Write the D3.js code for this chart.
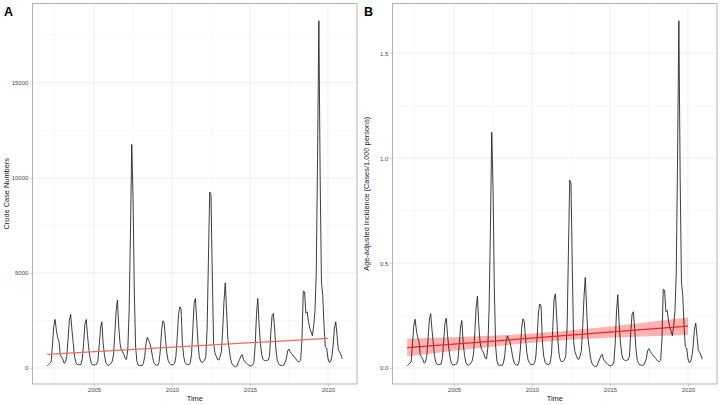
<!DOCTYPE html>
<html><head><meta charset="utf-8">
<script src="https://cdn.jsdelivr.net/npm/d3@7"></script>
<style>body{margin:0;background:#fff}svg{display:block;font-family:"Liberation Sans",Arial,sans-serif}</style>
</head><body><svg id="c" width="720" height="405"></svg>
<script>
// Monthly series, Jan 2002 .. Dec 2020
const startYear = 2002;
const casesA = [
  120, 180, 250, 320, 1200, 2200, 2555, 2000, 1600, 1400, 700, 580,      // 2002
  450, 250, 300, 600, 1500, 2500, 2815, 2000, 1300, 600, 300, 190,       // 2003
  180, 170, 200, 500, 1300, 2300, 2550, 1700, 1000, 500, 250, 160,       // 2004
  150, 180, 200, 400, 1200, 2100, 2430, 1300, 700, 300, 180, 140,        // 2005
  180, 250, 350, 700, 1800, 3000, 3570, 2200, 1300, 950, 850, 700,       // 2006
  500, 450, 1000, 3000, 7000, 11750, 9000, 4000, 1100, 350, 150, 120,    // 2007
  150, 120, 250, 600, 1300, 1610, 1450, 1300, 1000, 600, 300, 180,       // 2008
  150, 140, 300, 900, 2000, 2480, 2350, 1500, 800, 400, 250, 180,        // 2009
  170, 170, 250, 600, 1600, 2800, 3215, 3100, 1300, 600, 300, 200,       // 2010
  180, 170, 250, 700, 2000, 3400, 3655, 2500, 1300, 600, 350, 300,       // 2011
  330, 400, 600, 2000, 5600, 9250, 9100, 5000, 1300, 800, 630, 450,      // 2012
  420, 600, 860, 2000, 3500, 4475, 3000, 1500, 1000, 500, 250, 150,      // 2013
  100, 70, 100, 300, 450, 630, 700, 450, 330, 270, 220, 150,             // 2014
  120, 100, 150, 300, 1200, 2800, 3655, 2300, 1300, 700, 450, 400,       // 2015
  380, 400, 420, 600, 1800, 2750, 2870, 2000, 950, 400, 240, 150,        // 2016
  150, 130, 150, 300, 500, 900, 1000, 850, 750, 650, 600, 500,           // 2017
  420, 330, 330, 400, 1500, 4040, 4000, 2900, 2950, 2450, 2100, 1900,    // 2018
  1700, 2200, 3000, 5000, 11000, 18250, 10000, 4500, 3800, 2200, 1100, 1050, // 2019
  500, 300, 330, 600, 1200, 2100, 2430, 1700, 950, 850, 700, 480         // 2020
];
const incidenceB = [
  0.011, 0.016, 0.023, 0.029, 0.109, 0.200, 0.232, 0.182, 0.145, 0.127, 0.064, 0.053,
  0.041, 0.023, 0.028, 0.055, 0.138, 0.230, 0.259, 0.184, 0.120, 0.055, 0.028, 0.017,
  0.017, 0.016, 0.019, 0.046, 0.121, 0.213, 0.237, 0.158, 0.093, 0.046, 0.023, 0.015,
  0.014, 0.017, 0.019, 0.037, 0.112, 0.195, 0.226, 0.121, 0.065, 0.028, 0.017, 0.013,
  0.017, 0.024, 0.034, 0.067, 0.172, 0.287, 0.342, 0.211, 0.125, 0.091, 0.081, 0.067,
  0.048, 0.043, 0.096, 0.287, 0.670, 1.124, 0.861, 0.383, 0.105, 0.033, 0.014, 0.011,
  0.014, 0.011, 0.024, 0.057, 0.124, 0.153, 0.138, 0.124, 0.095, 0.057, 0.029, 0.017,
  0.014, 0.013, 0.028, 0.085, 0.189, 0.234, 0.222, 0.142, 0.075, 0.038, 0.024, 0.017,
  0.016, 0.016, 0.024, 0.057, 0.152, 0.266, 0.305, 0.294, 0.123, 0.057, 0.028, 0.019,
  0.017, 0.016, 0.024, 0.068, 0.193, 0.329, 0.353, 0.242, 0.126, 0.058, 0.034, 0.029,
  0.032, 0.039, 0.058, 0.194, 0.542, 0.895, 0.881, 0.484, 0.126, 0.077, 0.061, 0.044,
  0.041, 0.058, 0.083, 0.193, 0.338, 0.432, 0.290, 0.145, 0.097, 0.048, 0.024, 0.014,
  0.009, 0.006, 0.009, 0.028, 0.042, 0.058, 0.065, 0.042, 0.031, 0.025, 0.020, 0.014,
  0.011, 0.010, 0.014, 0.029, 0.115, 0.267, 0.349, 0.220, 0.124, 0.067, 0.043, 0.038,
  0.035, 0.037, 0.039, 0.056, 0.168, 0.257, 0.268, 0.187, 0.089, 0.037, 0.022, 0.014,
  0.014, 0.012, 0.014, 0.028, 0.046, 0.083, 0.092, 0.078, 0.069, 0.060, 0.055, 0.046,
  0.039, 0.031, 0.031, 0.037, 0.139, 0.375, 0.371, 0.269, 0.274, 0.227, 0.195, 0.176,
  0.154, 0.199, 0.272, 0.453, 0.997, 1.655, 0.907, 0.408, 0.345, 0.199, 0.100, 0.095,
  0.044, 0.026, 0.029, 0.053, 0.105, 0.184, 0.213, 0.149, 0.083, 0.075, 0.061, 0.042
];
const xTicks = [2005, 2010, 2015, 2020];
const xMinor = [2002.5, 2007.5, 2012.5, 2017.5];
const yTicksA = [0, 5000, 10000, 15000];
const yMinorA = [2500, 7500, 12500, 17500];
const yTicksB = [0, 0.5, 1.0, 1.5];
const yMinorB = [0.25, 0.75, 1.25];
const fitYears = [2002, 2020];
const fitA = [720, 1560];
const fitB = [0.097, 0.199];
const bandYears = [2002, 2004, 2006, 2008, 2010, 2012, 2014, 2016, 2018, 2020];
const bandLowB = [0.055, 0.073, 0.090, 0.106, 0.120, 0.132, 0.140, 0.146, 0.152, 0.157];
const bandUpB  = [0.139, 0.144, 0.150, 0.156, 0.164, 0.176, 0.190, 0.206, 0.224, 0.241];

const svg = d3.select("#c");
const times = casesA.map((_, i) => startYear + i / 12);

function panel(opts) {
  const {left, top, width, height, values, yTicks, yMinor, yFmt, fit, fitColor, band, label, yTitle} = opts;
  const g = svg.append("g");
  const tExt = d3.extent(times), tPad = (tExt[1] - tExt[0]) * 0.05;
  const x = d3.scaleLinear().domain([tExt[0] - tPad, tExt[1] + tPad]).range([left, left + width]);
  const vExt = d3.extent(values), vPad = (vExt[1] - vExt[0]) * 0.05;
  const y = d3.scaleLinear().domain([vExt[0] - vPad, vExt[1] + vPad]).range([top + height, top]);

  // grid
  g.selectAll(".gxm").data(xMinor).join("line").attr("x1", d => x(d)).attr("x2", d => x(d))
    .attr("y1", top).attr("y2", top + height).attr("stroke", "#f0f0f0").attr("stroke-width", 0.5);
  g.selectAll(".gym").data(yMinor).join("line").attr("y1", d => y(d)).attr("y2", d => y(d))
    .attr("x1", left).attr("x2", left + width).attr("stroke", "#f0f0f0").attr("stroke-width", 0.5);
  g.selectAll(".gx").data(xTicks).join("line").attr("x1", d => x(d)).attr("x2", d => x(d))
    .attr("y1", top).attr("y2", top + height).attr("stroke", "#e6e6e6").attr("stroke-width", 0.7);
  g.selectAll(".gy").data(yTicks).join("line").attr("y1", d => y(d)).attr("y2", d => y(d))
    .attr("x1", left).attr("x2", left + width).attr("stroke", "#e6e6e6").attr("stroke-width", 0.7);

  // confidence band
  if (band) {
    const area = d3.area().x((d, i) => x(band.years[i])).y0((d, i) => y(band.low[i])).y1((d, i) => y(band.up[i])).curve(d3.curveMonotoneX);
    g.append("path").datum(band.years).attr("d", area).attr("fill", "rgba(255,0,0,0.3)");
  }
  // series
  const line = d3.line().x((d, i) => x(times[i])).y(d => y(d));
  g.append("path").datum(values).attr("d", line).attr("fill", "none")
    .attr("stroke", "#1a1a1a").attr("stroke-width", 0.85).attr("stroke-linejoin", "round");
  // fit line
  const fl = d3.line().x((d, i) => x(fitYears[i])).y(d => y(d));
  g.append("path").datum(fit).attr("d", fl).attr("fill", "none").attr("stroke", fitColor).attr("stroke-width", 1.2);

  // border
  g.append("rect").attr("x", left).attr("y", top).attr("width", width).attr("height", height)
    .attr("fill", "none").attr("stroke", "#b3b3b3").attr("stroke-width", 1);

  // axes
  const ax = d3.axisBottom(x).tickValues(xTicks).tickFormat(d3.format("d")).tickSize(2.7).tickPadding(1.5);
  const axG = g.append("g").attr("transform", `translate(0,${top + height})`).call(ax);
  const ay = d3.axisLeft(y).tickValues(yTicks).tickFormat(yFmt).tickSize(2.7).tickPadding(1.5);
  const ayG = g.append("g").attr("transform", `translate(${left},0)`).call(ay);
  [axG, ayG].forEach(a => {
    a.select(".domain").remove();
    a.selectAll(".tick line").attr("stroke", "#b3b3b3").attr("stroke-width", 0.6);
    a.selectAll(".tick text").attr("fill", "#4d4d4d").attr("font-size", 6)
      .attr("font-family", '"Liberation Sans",Arial,sans-serif');
  });

  // titles
  g.append("text").attr("x", left + width / 2).attr("y", 401).attr("text-anchor", "middle")
    .attr("font-size", 7.4).attr("fill", "#1a1a1a").text("Time");
  g.append("text").attr("transform", `translate(${left - 24},${top + height / 2}) rotate(-90)`)
    .attr("text-anchor", "middle").attr("font-size", 7.4).attr("fill", "#1a1a1a").text(yTitle);
  g.append("text").attr("x", left - 28.5).attr("y", 16).attr("font-size", 12.5).attr("font-weight", "bold")
    .attr("fill", "#000").text(label);
}

panel({left: 32.5, top: 3.5, width: 324.5, height: 380.5, values: casesA,
  yTicks: yTicksA, yMinor: yMinorA, yFmt: d3.format("d"), fit: fitA, fitColor: "#f26a5c",
  band: null, label: "A", yTitle: "Crude Case Numbers"});
panel({left: 392.5, top: 3.5, width: 324.5, height: 380.5, values: incidenceB,
  yTicks: yTicksB, yMinor: yMinorB, yFmt: d3.format(".1f"), fit: fitB, fitColor: "#f0241c",
  band: {years: bandYears, low: bandLowB, up: bandUpB}, label: "B", yTitle: "Age-adjusted Incidence (Cases/1,000 persons)"});
</script></body></html>
